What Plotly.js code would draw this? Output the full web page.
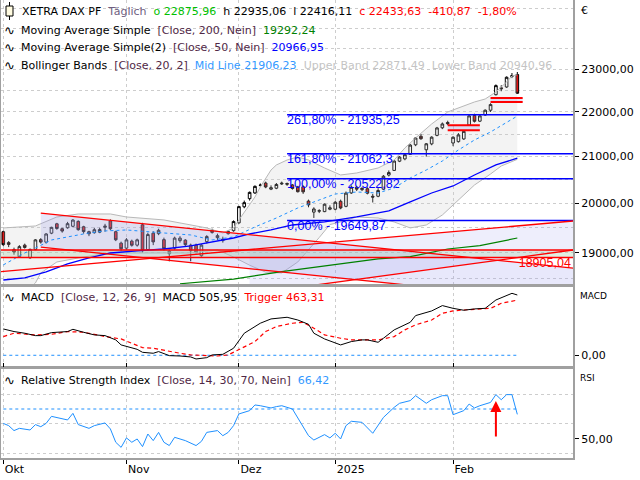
<!DOCTYPE html>
<html><head><meta charset="utf-8">
<script src="https://cdn.plot.ly/plotly-3.0.1.min.js"></script>
<style>html,body{margin:0;padding:0;background:#fff}#chart{width:640px;height:480px}</style>
</head><body><div id="chart"></div><script>
// ---------- data ----------
const dates = [
'2024-10-01','2024-10-02','2024-10-03','2024-10-04','2024-10-07','2024-10-08','2024-10-09','2024-10-10','2024-10-11','2024-10-14',
'2024-10-15','2024-10-16','2024-10-17','2024-10-18','2024-10-21','2024-10-22','2024-10-23','2024-10-24','2024-10-25','2024-10-28',
'2024-10-29','2024-10-30','2024-10-31','2024-11-01','2024-11-04','2024-11-05','2024-11-06','2024-11-07','2024-11-08','2024-11-11',
'2024-11-12','2024-11-13','2024-11-14','2024-11-15','2024-11-18','2024-11-19','2024-11-20','2024-11-21','2024-11-22','2024-11-25',
'2024-11-26','2024-11-27','2024-11-28','2024-11-29','2024-12-02','2024-12-03','2024-12-04','2024-12-05','2024-12-06','2024-12-09',
'2024-12-10','2024-12-11','2024-12-12','2024-12-13','2024-12-16','2024-12-17','2024-12-18','2024-12-19','2024-12-20','2024-12-23',
'2024-12-27','2024-12-30','2025-01-02','2025-01-03','2025-01-06','2025-01-07','2025-01-08','2025-01-09','2025-01-10','2025-01-13',
'2025-01-14','2025-01-15','2025-01-16','2025-01-17','2025-01-20','2025-01-21','2025-01-22','2025-01-23','2025-01-24','2025-01-27',
'2025-01-28','2025-01-29','2025-01-30','2025-01-31','2025-02-03','2025-02-04','2025-02-05','2025-02-06','2025-02-07','2025-02-10',
'2025-02-11','2025-02-12','2025-02-13','2025-02-14','2025-02-17','2025-02-18','2025-02-19'];
const holidays = ['2024-12-24','2024-12-25','2024-12-26','2024-12-31','2025-01-01'];

const open = [19420,19200,19060,18920,19150,18900,19060,19260,19210,19390,
 19580,19480,19500,19530,19630,19520,19420,19400,19410,19510,
 19640,19420,19190,19090,19230,19150,19560,19060,19390,19380,
 19260,19030,19090,19240,19250,19150,19150,18940,19220,19450,
 19300,19240,19380,19440,19600,19930,20100,20220,20380,20430,
 20300,20320,20410,20420,20390,20350,20350,20050,19820,19840,
 19830,19880,19880,20045,19940,20220,20340,20290,20310,20150,
 20150,20300,20600,20700,20900,20950,21050,21260,21450,21150,
 21280,21470,21640,21760,21300,21330,21390,21700,21920,21790,
 21930,22040,22400,22560,22580,22830,22875.96];
const high = [19440,19230,19100,19150,19180,19080,19270,19290,19390,19520,
 19600,19500,19620,19675,19650,19540,19440,19500,19500,19580,
 19670,19440,19220,19290,19260,19280,19600,19400,19430,19480,
 19300,19060,19320,19330,19270,19180,19180,19170,19350,19480,
 19380,19320,19440,19650,19950,20060,20250,20380,20420,20460,
 20380,20430,20460,20440,20410,20370,20380,20080,19920,19880,
 20000,19960,20050,20080,20250,20380,20370,20340,20340,20200,
 20320,20600,20700,20920,21010,21060,21280,21420,21500,21300,
 21450,21660,21760,21800,21450,21520,21580,21930,21960,21950,
 22060,22200,22640,22620,22830,22911,22935.06];
const low = [19130,19110,18960,18900,19080,18880,19050,19180,19180,19370,
 19460,19400,19480,19510,19440,19380,19330,19380,19390,19420,
 19450,19230,19030,19060,19120,19120,19000,19040,19150,19350,
 19040,18830,19060,19200,19130,18830,18990,18920,19180,19380,
 19250,19200,19360,19420,19580,19900,20060,20200,20350,20320,
 20280,20300,20390,20370,20290,20230,20200,19920,19700,19800,
 19820,19860,19860,19880,19920,20200,20260,20260,20190,20020,
 20130,20280,20570,20690,20880,20920,21040,21230,21370,21000,
 21250,21450,21610,21700,21230,21310,21370,21690,21760,21770,
 21910,22000,22380,22480,22560,22790,22416.11];
const close = [19160,19165,19015,19120,19104,19066,19255,19211,19374,19508,
 19486,19433,19583,19657,19461,19422,19378,19460,19464,19531,
 19480,19257,19078,19255,19148,19256,19039,19362,19215,19448,
 19080,18980,19290,19290,19160,19040,19000,19150,19322,19406,
 19340,19270,19426,19626,19934,20017,20232,20359,20385,20346,
 20330,20399,20426,20406,20314,20246,20243,19970,19885,19849,
 19984,19909,20025,19906,20216,20341,20300,20317,20215,20133,
 20271,20575,20655,20903,20990,21042,21254,21411,21395,21282,
 21430,21637,21727,21732,21428,21480,21560,21910,21787,21910,
 22040,22170,22612,22540,22810,22844.5,22433.63];

// Bollinger bands (20,2) - sampled day indices and values
const bbUpIdx = [0,6,10,14,20,23,30,34,38,41,43,44,46,47,48,49,50,51,53,55,57,60,63,66,70,73,75,77,80,83,86,88,90,92,94,95,96];
const bbUp = [19496,19536,19720,19782,19782,19720,19659,19577,19496,19394,19496,19659,19968,20135,20346,20538,20709,20818,20926,20992,20926,20753,20602,20645,20753,20926,21190,21412,21726,22000,22137,22230,22299,22462,22698,22840,22871.49];
const bbLoIdx = [0,4,6,7,10,15,20,30,35,40,43,46,49,52,55,59,61,63,66,70,73,76,79,82,85,88,91,93,96];
const bbLo = [17993,18219,18410,18603,18817,18915,18994,18994,18994,19054,18915,18754,18618,18603,18817,19302,19565,19618,19720,19699,19618,19496,19556,19761,20072,20388,20623,20796,20940.96];
const bbMidIdx = [0,4,6,9,12,16,19,23,30,35,39,43,47,51,55,59,62,66,70,73,76,79,82,85,88,91,94,96];
const bbMid = [18759,18994,19093,19253,19314,19394,19435,19455,19394,19354,19253,19314,19516,19699,19906,20072,20198,20240,20219,20325,20538,20709,20905,21146,21367,21546,21771,21906.23];
// Moving averages
const sma50Idx = [0,4,8,12,16,20,25,30,35,39,43,46,50,54,60,66,72,76,80,84,88,92,96];
const sma50 = [18467,18506,18622,18778,18896,18994,19034,19073,19133,19213,19293,19374,19455,19556,19618,19720,19844,20031,20219,20367,20602,20818,20966.95];
const sma200Idx = [33,43,52,58,64,70,76,83,89,96];
const sma200 = [18395,18482,18630,18707,18798,18876,18921,19073,19139,19292.24];

// MACD (12,26,9)
const macdIdx = [0,2,4,6,7,9,12,13,15,17,19,21,22,25,26,28,29,31,33,35,36,38,39,41,43,45,48,50,53,55,57,58,60,63,65,67,68,70,71,73,76,77,80,82,84,86,88,90,92,95,96];
const macd = [221,199,185,165,165,190,199,218,193,171,165,129,87,50,25,17,31,-3,-6,-14,-31,-20,3,8,59,185,269,305,319,296,260,185,137,87,115,129,129,109,143,213,277,333,372,417,394,378,389,394,464,520,505.95];
const trigIdx = [0,2,6,9,12,15,17,19,22,24,26,28,31,33,35,38,40,42,44,47,49,51,54,56,58,60,63,65,68,70,73,75,77,80,82,84,86,89,91,93,96];
const trigger = [157,185,171,176,199,193,176,157,137,101,64,59,31,17,3,-3,-6,3,45,115,199,241,269,277,227,171,143,129,129,129,157,213,255,296,352,372,380,389,394,436,463.31];

// RSI (14)
const rsiIdx = [0,1,2,3,5,6,7,8,9,11,12,13,14,16,17,19,20,21,22,23,24,25,26,27,28,29,30,31,32,33,34,36,37,38,40,41,42,43,44,46,47,48,50,51,52,54,55,57,58,60,61,62,63,64,65,67,69,71,73,74,76,77,79,80,82,83,84,86,87,88,89,91,92,93,94,95,96];
const rsi = [60.4,58.9,55.6,57.1,56.0,59.6,58.2,60.4,65.1,63.8,62.7,67.1,59.6,57.1,58.9,60.7,56.7,47.8,44.4,50.7,47.8,50.0,44.9,53.3,48.9,54.4,47.8,45.6,51.1,50.0,48.9,45.6,48.4,54.4,55.6,52.2,54.4,58.9,66.7,68.9,72.7,72.2,70.7,71.6,72.2,70.0,64.0,52.2,49.3,52.9,50.7,53.8,50.0,58.9,61.8,61.1,53.8,64.4,71.1,73.8,75.6,78.9,73.8,76.2,78.9,78.9,66.2,68.9,73.3,70.7,72.2,74.4,79.6,76.2,79.6,79.6,66.42];
const rsiLevel = 70;

// Fibonacci retracement
const fibPct = ['261,80%','161,80%','100,00%','0,00%'];
const fibVal = [21935.25, 21062.3, 20522.82, 19649.87];
const fibStart = '2024-12-13', fibEnd = '2025-03-06';

// Drawn lines / zones (date, price)
const hLines = [19054, 18905.04];
const hStart = '2024-09-30', hEnd = '2025-03-06';
const trendLines = [
  [['2024-10-10','2025-03-06'],[19800,18690]],
  [['2024-10-10','2025-03-06'],[19111,18039]],
  [['2024-09-30','2025-03-06'],[18624,19644]],
  [['2024-12-04','2025-03-06'],[18200,19062]]
];
const zones = [
  [['2025-01-31','2025-02-10'],[21697,21584]],
  [['2025-02-12','2025-02-20'],[22323,22230]]
];

// axis labels
const monthTicks = ['2024-10-01','2024-11-01','2024-12-02','2025-01-02','2025-02-03'];
const monthText = ['Okt','Nov','Dez','2025','Feb'];
const priceTicks = [19000,20000,21000,22000,23000];
const priceMinor = [18500,19500,20500,21500,22500,23500,24000,24500];

// ---------- helpers ----------
const fmt = v => v.toFixed(2).replace('.', ',');
const fmtT = v => String(v).replace('.', ',');
const X = idx => idx.map(i => dates[i]);
const N = dates.length - 1;
const line = (x, y, ya, st, extra) => Object.assign({type:'scatter', mode:'lines', x, y, xaxis:'x', yaxis:ya, line:st, hoverinfo:'skip'}, extra||{});
const poly = (x, y, col) => ({type:'scatter', mode:'lines', x, y, fill:'toself', fillcolor:col, line:{width:0}, xaxis:'x', yaxis:'y', hoverinfo:'skip'});

const RED = '#ff0000';
const traces = [];
// Bollinger fill
traces.push(line(X(bbLoIdx), bbLo, 'y', {color:'#b8b8b8', width:1}));
traces.push(line(X(bbUpIdx), bbUp, 'y', {color:'#b8b8b8', width:1}, {fill:'tonexty', fillcolor:'rgba(200,200,200,0.22)'}));
// channel fills
const [l1, l1b, l3, l4] = trendLines;
traces.push(poly([l1[0][0], l1[0][1], l1b[0][1], l1b[0][0]], [l1[1][0], l1[1][1], l1b[1][1], l1b[1][0]], 'rgba(150,150,235,0.22)'));
traces.push(poly([l4[0][0], l3[0][1], l4[0][1], l4[0][0]], [19058, l3[1][1], l4[1][1], l4[1][0]], 'rgba(150,150,235,0.16)'));
traces.push(poly([hStart, hEnd, hEnd, hStart], [hLines[0], hLines[0], hLines[1], hLines[1]], 'rgba(170,210,170,0.35)'));
zones.forEach(z => traces.push(poly([z[0][0], z[0][1], z[0][1], z[0][0]], [z[1][0], z[1][0], z[1][1], z[1][1]], 'rgba(170,170,240,0.3)')));
// labels under candles
traces.push({type:'scatter', mode:'text', x: fibVal.map(() => fibStart), y: fibVal,
  text: fibVal.map((v,k) => fibPct[k] + ' - ' + fmtT(v)), textposition:'bottom right',
  textfont:{family:'Liberation Sans, Arial, sans-serif', size:12.5, color:'#0000ff'}, xaxis:'x', yaxis:'y', hoverinfo:'skip', cliponaxis:false});
traces.push({type:'scatter', mode:'text', x:['2025-03-05'], y:[hLines[1]], text:[fmt(hLines[1])], textposition:'bottom left',
  textfont:{family:'Liberation Sans, Arial, sans-serif', size:12.5, color:RED}, xaxis:'x', yaxis:'y', hoverinfo:'skip'});
// indicator lines
traces.push(line(X(bbMidIdx), bbMid, 'y', {color:'#1e90ff', width:1, dash:'dot'}));
traces.push(line(X(sma200Idx), sma200, 'y', {color:'#008000', width:1.2}));
traces.push(line(X(sma50Idx), sma50, 'y', {color:'#0000ff', width:1.3}));
fibVal.forEach(v => traces.push(line([fibStart, fibEnd], [v, v], 'y', {color:'#0000ff', width:1.5})));
hLines.forEach(v => traces.push(line([hStart, hEnd], [v, v], 'y', {color:RED, width:1.5})));
trendLines.forEach(t => traces.push(line(t[0], t[1], 'y', {color:RED, width:1.3})));
zones.forEach(z => { traces.push(line(z[0], [z[1][0], z[1][0]], 'y', {color:RED, width:2}));
                     traces.push(line(z[0], [z[1][1], z[1][1]], 'y', {color:RED, width:2})); });
// candles
traces.push({type:'candlestick', x:dates, open, high, low, close, xaxis:'x', yaxis:'y',
  increasing:{line:{color:'#000', width:1}, fillcolor:'#ffffff'},
  decreasing:{line:{color:'#000', width:1}, fillcolor:'#e00000'},
  whiskerwidth:0, hoverinfo:'skip'});
// MACD
traces.push(line([dates[0], dates[N]], [0, 0], 'y2', {color:'#1e90ff', width:1, dash:'dot'}));
traces.push(line(X(trigIdx), trigger, 'y2', {color:RED, width:1.2, dash:'4px,3px'}));
traces.push(line(X(macdIdx), macd, 'y2', {color:'#000', width:1}));
// RSI
traces.push(line([dates[0], dates[N]], [rsiLevel, rsiLevel], 'y3', {color:'#1e90ff', width:1, dash:'dot'}));
traces.push(line(X(rsiIdx), rsi, 'y3', {color:'#1e90ff', width:1}));

// ---------- layout ----------
const W = 640, H = 480;
const px = x => x / W, py = y => 1 - y / H;
const GRID = '#cdcdcd', FRAME = '#a0a0a0';
const font = {family:'DejaVu Sans, sans-serif', size:11, color:'#000'};
const ann = (x, y, text, extra) => Object.assign({xref:'paper', yref:'paper', x:px(x), y:py(y), text, showarrow:false, xanchor:'left', yanchor:'middle', font}, extra||{});
const sp = '&nbsp;&nbsp;';
const col = (c, t) => '<span style="color:' + c + '">' + t + '</span>';
const chg = close[N] - close[N-1];
const BR = '#502846';
const wave = (y) => ann(2, y, '∿', {font:{family:'DejaVu Sans', size:13, color:'#000'}});

const annotations = [
  ann(20, 11, 'XETRA DAX PF' + sp + col('#6e5e80','Täglich') + sp + col('#00c000','o ' + fmt(open[N])) + sp +
      'h ' + fmt(high[N]) + sp + 'l ' + fmt(low[N]) + sp +
      col(RED, 'c ' + fmt(close[N]) + sp + fmt(chg) + sp + fmt(chg / close[N-1] * 100) + '%')),
  wave(30), ann(19, 30, 'Moving Average Simple' + sp + col(BR,'[Close, 200, Nein]') + sp + col('#008000', fmt(sma200[sma200.length-1]))),
  wave(48), ann(19, 48, 'Moving Average Simple(2)' + sp + col(BR,'[Close, 50, Nein]') + sp + col('#0000ff', fmt(sma50[sma50.length-1]))),
  wave(66), ann(19, 66, 'Bollinger Bands' + sp + col(BR,'[Close, 20, 2]') + sp + col('#3399ff','Mid Line ' + fmt(bbMid[bbMid.length-1])) + sp +
      col('#c4c4c4','Upper Band ' + fmt(bbUp[bbUp.length-1]) + sp + 'Lower Band ' + fmt(bbLo[bbLo.length-1]))),
  wave(297), ann(19, 297, 'MACD' + sp + col(BR,'[Close, 12, 26, 9]') + sp + 'MACD ' + fmt(macd[macd.length-1]) + sp + col(RED,'Trigger ' + fmt(trigger[trigger.length-1]))),
  wave(380), ann(19, 380, 'Relative Strength Index' + sp + col(BR,'[Close, 14, 30, 70, Nein]') + sp + col('#3399ff', fmt(rsi[rsi.length-1]))),
  ann(579, 10, '€'),
  ann(578, 296, 'MACD', {font:{family:'DejaVu Sans', size:9, color:'#000'}}),
  ann(578, 378, 'RSI', {font:{family:'DejaVu Sans', size:9, color:'#000'}}),
  {x:dates[92], y:75.3, xref:'x', yref:'y3', ax:0, ay:37, showarrow:true, arrowhead:2, arrowsize:1.1, arrowwidth:2, arrowcolor:RED, text:''}
];

const shapes = [
  {type:'rect', xref:'paper', yref:'paper', x0:px(6), x1:px(13), y0:py(16), y1:py(6), line:{color:'#000', width:1}, fillcolor:'#fffbe0'},
  {type:'line', xref:'paper', yref:'paper', x0:px(9.5), x1:px(9.5), y0:py(6), y1:py(2), line:{color:'#000', width:1}},
  {type:'line', xref:'paper', yref:'paper', x0:px(9.5), x1:px(9.5), y0:py(20), y1:py(16), line:{color:'#000', width:1}}
];

const yCommon = {side:'right', anchor:'x', ticks:'outside', ticklen:4, tickcolor:'#000', showline:true, linecolor:FRAME, linewidth:2,
  mirror:true, zeroline:false, fixedrange:true, tickfont:font};

const layout = {
  width:W, height:H, margin:{l:0, r:0, t:0, b:0}, paper_bgcolor:'#fff', plot_bgcolor:'#fff',
  font, showlegend:false, hovermode:false, dragmode:false,
  xaxis:{type:'date', domain:[px(1), px(573)], anchor:'y3',
    range:['2024-09-30 13:40', '2025-03-05 09:36'],
    rangebreaks:[{bounds:['sat','mon']}, {values:holidays}],
    tickmode:'array', tickvals:monthTicks, ticktext:monthText,
    ticks:'outside', ticklen:4, tickcolor:'#000', ticklabelposition:'outside right',
    showgrid:true, gridcolor:GRID, griddash:'dot', gridwidth:1,
    showline:true, linecolor:FRAME, linewidth:2, mirror:'all',
    rangeslider:{visible:false}, zeroline:false, fixedrange:true, tickfont:font},
  yaxis:Object.assign({}, yCommon, {domain:[py(284), py(0)], type:'log', range:[Math.log10(18390), Math.log10(24722)],
    tickmode:'array', tickvals:priceTicks, ticktext:priceTicks.map(fmt), showgrid:true, gridcolor:GRID, griddash:'dot',
    minor:{tickvals:priceMinor, showgrid:true, gridcolor:GRID, griddash:'dot', ticks:''}}),
  yaxis2:Object.assign({}, yCommon, {domain:[py(366), py(287)], range:[-90, 573],
    tickmode:'array', tickvals:[0], ticktext:[fmt(0)], showgrid:false}),
  yaxis3:Object.assign({}, yCommon, {domain:[py(458), py(369)], range:[37.3, 96.7],
    tickmode:'array', tickvals:[50], ticktext:[fmt(50)], showgrid:false,
    minor:{tickvals:[40,60,80], showgrid:true, gridcolor:GRID, griddash:'dot', ticks:''}}),
  annotations, shapes
};

Plotly.newPlot('chart', traces, layout, {staticPlot:true, displayModeBar:false});
</script></body></html>
